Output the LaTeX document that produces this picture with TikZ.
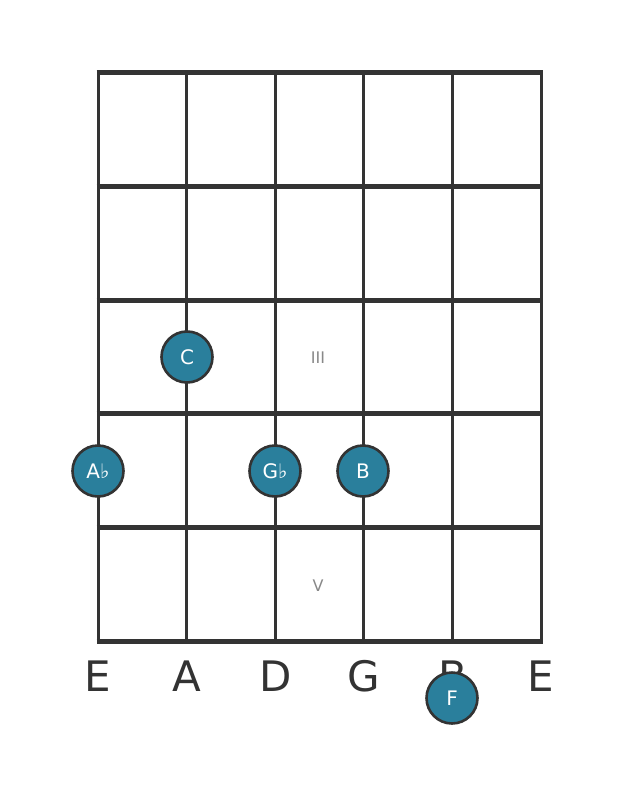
\documentclass[tikz,border=0pt]{standalone}
\usepackage{fontspec}
\setmainfont{DejaVu Sans}
\usepackage{tikz}
\definecolor{griff}{HTML}{333333}
\definecolor{punkt}{HTML}{2A7F9C}
\definecolor{lage}{HTML}{888888}
\tikzset{
    ton/.style={circle, draw=griff, fill=punkt, line width=2.6pt, minimum size=51pt, inner sep=0pt, text=white, font=\fontsize{20}{20}\selectfont},
    saite/.style={font=\fontsize{42}{42}\selectfont, text=griff},
    roem/.style={font=\fontsize{16}{16}\selectfont, text=lage}
}

\begin{document}
\begin{tikzpicture}[x=1pt, y=-1pt, line width=3pt]
    \useasboundingbox (0,0) rectangle (622,797);
    % Saiten.
    \foreach \i in {0,...,5}
    {
        \draw[color=griff] (98+88.6*\i,73) -- (98+88.6*\i,641);
    }
    % Bünde.
    \foreach \j in {0,...,5}
    {
        \draw[color=griff, line width=5pt] (96.5,73+113.6*\j) -- (542.5,73+113.6*\j);
    }

    % Lagen.
    \node[roem] (lageIII) at (318,358) {III};
    \node[roem] (lageV) at (318,586) {V};

    % Beschriftung.
    \foreach \s/\n [count=\k from 0] in {E/e1,A/a,D/d,G/g,B/h,E/e2}
    {
        \node[saite] (\n) at (98+88.6*\k,676) {\s};
    }

    % Töne.
    \node[ton] (c) at (187,357) {C};
    \node[ton] (as) at (98,471) {A♭};
    \node[ton] (ges) at (275,471) {G♭};
    \node[ton] (b) at (363,471) {B};
    \node[ton] (f) at (452,698) {F};
\end{tikzpicture}
\end{document}
